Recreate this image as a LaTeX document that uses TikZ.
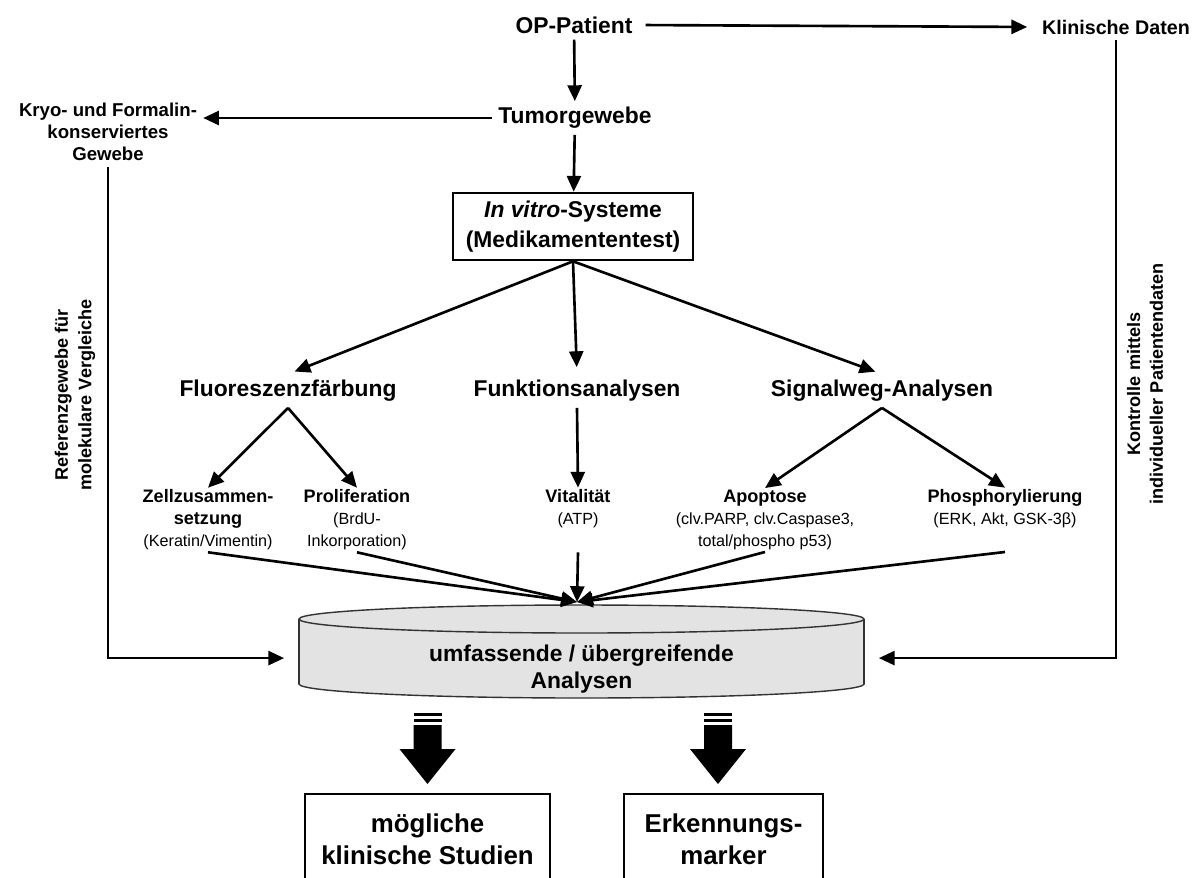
\documentclass[tikz,border=0pt]{standalone}
\usepackage{fontspec}
\setmainfont{Liberation Sans}
\usetikzlibrary{arrows.meta}
\definecolor{cylgray}{gray}{0.89}
\newcommand{\detail}[1]{{\normalfont\fontsize{9.2}{12.5}\selectfont #1}}

\begin{document}
\begin{tikzpicture}[x=0.02cm, y=-0.02cm,
    arr/.style={draw, line width=1.5pt, -{Triangle[length=9pt, width=8pt]}},
    big/.style={font=\bfseries\fontsize{13}{17}\selectfont, align=center},
    side/.style={font=\bfseries\fontsize{10.6}{12.5}\selectfont, align=center},
    sub/.style={font=\bfseries\fontsize{10.3}{12.5}\selectfont, align=center, inner sep=1pt},
    vert/.style={font=\bfseries\fontsize{10.3}{13.5}\selectfont, align=center, rotate=90},
    outbox/.style={draw, line width=1.5pt, font=\bfseries\fontsize{14.7}{18}\selectfont, align=center, minimum height=1.8cm}]
    \useasboundingbox[fill=white] (0,0) rectangle (1201,877);

    % Sources
    \node[big] (op) at (574,25) {OP-Patient};
    \node[side, font=\bfseries\fontsize{11.2}{13}\selectfont] (klin) at (1116,27) {Klinische Daten};
    \node[big] (tumor) at (575,118) {Tumorgewebe};
    \node[side] (kryo) at (108,132) {Kryo- und Formalin-\\konserviertes\\Gewebe};
    \node[big, draw, line width=1.5pt, minimum width=4.8cm, minimum height=1.34cm] (vitro) at (573,226.5) {\textit{In vitro}-Systeme\\(Medikamententest)};

    % Analyses
    \node[big] (fluo) at (288,391) {Fluoreszenzfärbung};
    \node[big] (funk) at (577,391) {Funktionsanalysen};
    \node[big] (sig) at (882,391) {Signalweg-Analysen};

    % Read-outs
    \node[sub] (zell) at (208,520) {Zellzusammen-\\setzung\\\detail{(Keratin/Vimentin)}};
    \node[sub] (prolif) at (357,520) {Proliferation\\\detail{(BrdU-}\\\detail{Inkorporation)}};
    \node[sub] (vital) at (578,509) {Vitalität\\\detail{(ATP)}};
    \node[sub] (apo) at (765,520) {Apoptose\\\detail{(clv.PARP, clv.Caspase3,}\\\detail{total/phospho p53)}};
    \node[sub] (phos) at (1005,509) {Phosphorylierung\\\detail{(ERK, Akt, GSK-3β)}};
    \coordinate (hub) at (577,602);

    % Side labels
    \node[vert] (refg) at (75,395) {Referenzgewebe für\\molekulare Vergleiche};
    \node[vert, font=\bfseries\fontsize{10.3}{13}\selectfont] (ctrl) at (1145,384) {Kontrolle mittels\\individueller Patientendaten};

    % Database
    \filldraw[fill=cylgray, draw=black!80, line width=0.8pt] (581.5,684) ellipse [x radius=282.5, y radius=14];
    \fill[cylgray] (299,619) rectangle (864,684);
    \draw[black!80, line width=0.8pt] (299,619) -- (299,684);
    \draw[black!80, line width=0.8pt] (864,619) -- (864,684);
    \filldraw[fill=cylgray, draw=black!80, line width=0.8pt] (581.5,619) ellipse [x radius=282.5, y radius=14];
    \node[big, font=\bfseries\fontsize{13}{15.3}\selectfont, minimum width=11.3cm, outer xsep=8.5pt] (ana) at (581.5,669.5) {umfassende / übergreifende\\Analysen};

    % Results
    \node[outbox, minimum width=4.9cm] (studien) at (427.5,839) {mögliche\\klinische Studien};
    \node[outbox, minimum width=3.98cm] (marker) at (723.5,839) {Erkennungs-\\marker};

    % Connections
    \draw[arr, shorten <=4pt, shorten >=5pt] (op.east) -- (klin.west);
    \draw[arr] (op) -- (tumor);
    \draw[arr] (tumor.west) -- (tumor.west -| kryo.east);
    \draw[arr] (tumor) -- (vitro);
    \draw[arr, shorten >=4pt] (vitro.south) -- (fluo.north);
    \draw[arr, shorten >=4pt] (vitro.south) -- (funk.north);
    \draw[arr, shorten >=4pt] (vitro.south) -- (sig.north);
    \draw[arr] (fluo.south) -- (zell.north);
    \draw[arr] (fluo.south) -- (prolif.north);
    \draw[arr] (funk.south) -- (vital.north);
    \draw[arr] (sig.south) -- (apo.north);
    \draw[arr] (sig.south) -- (phos.north);
    \draw[arr] (zell.south) -- (hub);
    \draw[arr] (prolif.south) -- (hub);
    \draw[arr] (vital.south |- zell.south) -- (hub);
    \draw[arr] (apo.south) -- (hub);
    \draw[arr] (phos.south |- apo.south) -- (hub);
    \draw[arr] (kryo.south) |- ([yshift=6.5pt]ana.west);
    \draw[arr] (klin.south) |- ([yshift=6.5pt]ana.east);

    % Block arrows
    \foreach \bx in {427.5,718} {
        \fill (\bx-14,713) rectangle (\bx+14,716);
        \fill (\bx-14,719) rectangle (\bx+14,722);
        \fill (\bx-14,725) -- (\bx-14,749) -- (\bx-28,749) -- (\bx,784) -- (\bx+28,749) -- (\bx+14,749) -- (\bx+14,725) -- cycle;
    }
\end{tikzpicture}
\end{document}
